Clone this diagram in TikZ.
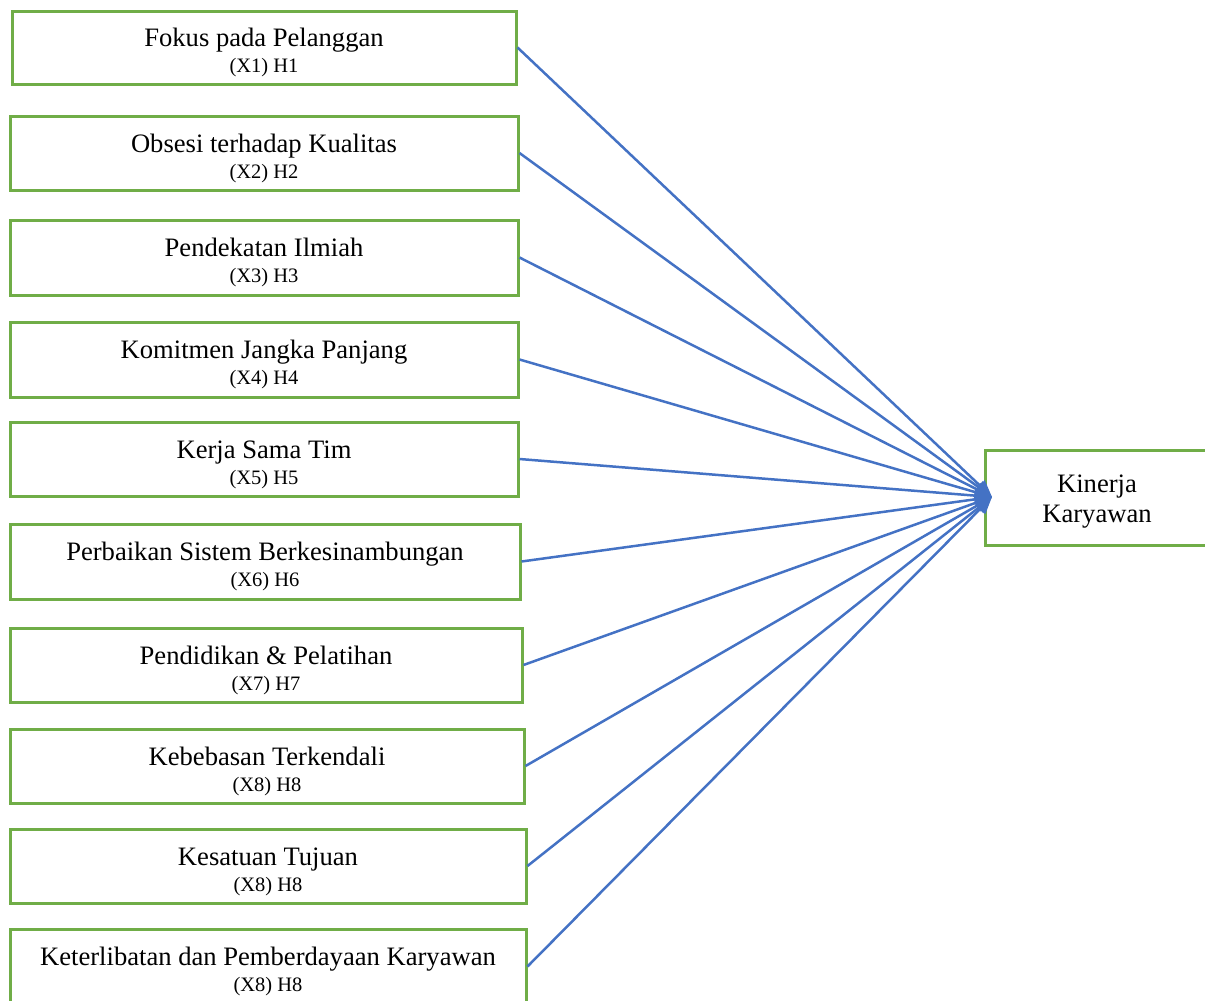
\documentclass[tikz,border=0pt]{standalone}
\usepackage{fontspec}
\setmainfont{Liberation Serif}
\usetikzlibrary{arrows.meta}
\definecolor{gbox}{HTML}{70AD47}
\definecolor{bline}{HTML}{4472C4}
\tikzset{
  box/.style={draw=gbox, line width=3pt, fill=white, inner sep=0pt},
  maintext/.style={anchor=base, inner sep=0pt, font=\fontsize{26.6}{30}\selectfont},
  subtext/.style={anchor=base, inner sep=0pt, font=\fontsize{20.5}{24}\selectfont},
  conn/.style={draw=bline, line width=2.5pt, -{Triangle[length=17pt,width=14pt]}}
}
\newcommand{\factor}[7]{%
  % #1 name, #2 left x, #3 right x, #4 top y, #5 bottom y, #6 main, #7 sub
  \node[box, minimum width={#3-#2}, minimum height={#5-#4}] (#1) at ({(#2+#3)/2},{(#4+#5)/2}) {};
  \node[maintext] (#1m) at ({(#2+#3)/2},{(#4+#5)/2-1}) {#6};
  \node[subtext] (#1s) at ({(#2+#3)/2},{(#4+#5)/2+25}) {#7};
}
\begin{document}
\begin{tikzpicture}[x=1pt,y=-1pt]
\useasboundingbox (0,0) rectangle (1205,1001);
\factor{b1}{12}{516}{11}{84}{Fokus pada Pelanggan}{(X1) H1}
\factor{b2}{10}{518}{116}{190}{Obsesi terhadap Kualitas}{(X2) H2}
\factor{b3}{10}{518}{220}{295}{Pendekatan Ilmiah}{(X3) H3}
\factor{b4}{10}{518}{322}{397}{Komitmen Jangka Panjang}{(X4) H4}
\factor{b5}{10}{518}{422}{496}{Kerja Sama Tim}{(X5) H5}
\factor{b6}{10}{520}{524}{599}{Perbaikan Sistem Berkesinambungan}{(X6) H6}
\factor{b7}{10}{522}{628}{702}{Pendidikan \& Pelatihan}{(X7) H7}
\factor{b8}{10}{524}{729}{803}{Kebebasan Terkendali}{(X8) H8}
\factor{b9}{10}{526}{829}{903}{Kesatuan Tujuan}{(X8) H8}
\factor{b10}{10}{526}{929}{1004}{Keterlibatan dan Pemberdayaan Karyawan}{(X8) H8}
\node[box, minimum width=225, minimum height=95] (kin) at (1097.5,497.5) {};
\node[maintext] (kin1) at (1097,492) {Kinerja};
\node[maintext] (kin2) at (1097,522) {Karyawan};
\coordinate (tip) at (992,497);
\foreach \i in {1,...,10} {
  \draw[conn] (b\i.east) -- (tip);
}
\end{tikzpicture}
\end{document}
